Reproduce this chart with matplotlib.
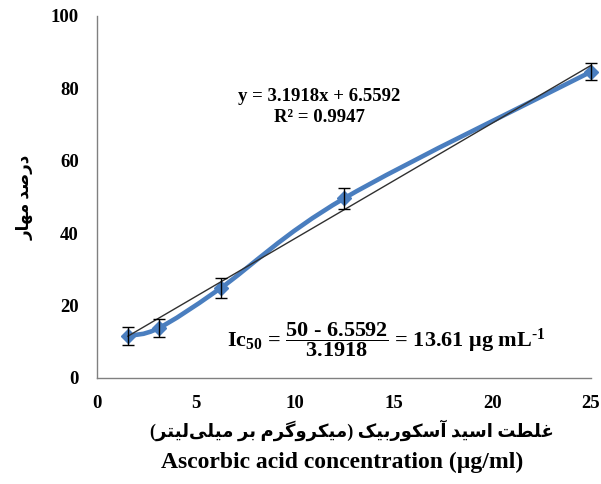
import numpy as np
import matplotlib
matplotlib.use("Agg")
from matplotlib import pyplot as plt
from matplotlib.path import Path
from matplotlib.patches import PathPatch

plt.rcParams['font.family'] = ['Liberation Serif', 'DejaVu Sans']
plt.rcParams['font.weight'] = 'bold'
plt.rcParams['mathtext.fontset'] = 'custom'
plt.rcParams['mathtext.rm'] = 'Liberation Serif:bold'
plt.rcParams['mathtext.bf'] = 'Liberation Serif:bold'
plt.rcParams['mathtext.it'] = 'Liberation Serif:italic:bold'

# data
conc = [1.5625, 3.125, 6.25, 12.5, 25]
inhib = [11.6, 13.8, 24.8, 49.6, 84.6]
err = [2.6, 2.6, 2.8, 2.9, 2.4]
slope = 3.1918
intercept = 6.5592
r2 = 0.9947
xticks = [0, 5, 10, 15, 20, 25]
yticks = [0, 20, 40, 60, 80, 100]

ylabel_fa = "درصد مهار"
xlabel_fa = "غلطت اسید آسکوربیک (میکروگرم بر میلی\u200cلیتر)"
xlabel_en = "Ascorbic acid concentration (µg/ml)"

# minimal arabic shaping (matplotlib has no shaping / bidi)
forms = {
    'ا': (0xFE8D, 0xFE8E), 'آ': (0xFE81, 0xFE82), 'د': (0xFEA9, 0xFEAA),
    'ر': (0xFEAD, 0xFEAE), 'و': (0xFEED, 0xFEEE),
    'ب': (0xFE8F, 0xFE90, 0xFE91, 0xFE92), 'ت': (0xFE95, 0xFE96, 0xFE97, 0xFE98),
    'س': (0xFEB1, 0xFEB2, 0xFEB3, 0xFEB4), 'ص': (0xFEB9, 0xFEBA, 0xFEBB, 0xFEBC),
    'ط': (0xFEC1, 0xFEC2, 0xFEC3, 0xFEC4), 'غ': (0xFECD, 0xFECE, 0xFECF, 0xFED0),
    'ک': (0xFB8E, 0xFB8F, 0xFB90, 0xFB91), 'گ': (0xFB92, 0xFB93, 0xFB94, 0xFB95),
    'ل': (0xFEDD, 0xFEDE, 0xFEDF, 0xFEE0), 'م': (0xFEE1, 0xFEE2, 0xFEE3, 0xFEE4),
    'ه': (0xFEE9, 0xFEEA, 0xFEEB, 0xFEEC), 'ی': (0xFBFC, 0xFBFD, 0xFBFE, 0xFBFF),
}

def shape(s):
    out = []
    for i, ch in enumerate(s):
        if ch not in forms:
            out.append(ch)
            continue
        f = forms[ch]
        prev = s[i-1] if i > 0 else ''
        nxt = s[i+1] if i + 1 < len(s) else ''
        jp = prev in forms and len(forms[prev]) == 4
        jn = len(f) == 4 and nxt in forms
        out.append(chr(f[(1 if jp else 0) + (2 if jn else 0)]))
    mirror = {'(': ')', ')': '('}
    return ''.join(mirror.get(c, c) for c in reversed(out) if c != '\u200c')

fig = plt.figure(figsize=(6.01, 4.84), dpi=100)
ax = fig.add_axes([97/601, 1-378/484, 494/601, 362/484])

blue = '#4A7EBF'

# smoothed line (excel style bezier through the points)
x = np.array(conc)
y = np.array(inhib)
pts = np.column_stack([x, y])
verts = [pts[0]]
codes = [Path.MOVETO]
n = len(pts)
for i in range(n - 1):
    p0 = pts[max(i-1, 0)]
    p1 = pts[i]
    p2 = pts[i+1]
    p3 = pts[min(i+2, n-1)]
    verts += [p1 + (p2 - p0)/6, p2 - (p3 - p1)/6, p2]
    codes += [Path.CURVE4]*3
ax.add_patch(PathPatch(Path(verts, codes), facecolor='none', edgecolor=blue,
                       lw=3.3, zorder=2, clip_on=False))
ax.plot(conc, inhib, ls='none', marker='D', ms=7, color=blue, zorder=3, clip_on=False)

# linear trendline
tx = np.array([conc[0], conc[-1]])
ax.plot(tx, slope*tx + intercept, color='#303030', lw=1, zorder=4, clip_on=False)

ax.errorbar(conc, inhib, yerr=err, fmt='none', ecolor='black', elinewidth=1,
            capsize=4, capthick=1, zorder=5, clip_on=False)

ax.set_xlim(0, 25)
ax.set_ylim(0, 100)
ax.set_xticks(xticks)
ax.set_yticks(yticks)
ax.tick_params(length=0, labelsize=13.5)
ax.tick_params(axis='y', pad=13)
ax.tick_params(axis='x', pad=12)
for lab in ax.get_xticklabels() + ax.get_yticklabels():
    lab.set_fontweight('bold')
for s in ['top', 'right']:
    ax.spines[s].set_visible(False)
for s in ['left', 'bottom']:
    ax.spines[s].set_color('#808080')
    ax.spines[s].set_linewidth(1)

ax.text(0.45, 0.748, f"y = {slope}x + {intercept}\nR² = {r2}", transform=ax.transAxes,
        ha='center', va='center', fontsize=13.5, fontweight='bold', linespacing=1.3)

ic50 = (50 - intercept) / slope
ax.text(0.585, 0.105,
        r"$\text{Ic}_{\text{50}}\text{ = }\dfrac{\text{50 - " + f"{intercept}" +
        r"}}{\text{" + f"{slope}" + r"}}\text{ = " + f"{ic50:.2f}" +
        r" μg mL}^{\text{-1}}$",
        transform=ax.transAxes, ha='center', va='center', fontsize=16)

fig.text(352/601, 1-430/484, shape(xlabel_fa), ha='center', va='center',
         fontsize=13, fontweight='bold')
fig.text(342/601, 1-462/484, xlabel_en, ha='center', va='center',
         fontsize=17, fontweight='bold')
fig.text(25/601, 1-197/484, shape(ylabel_fa), ha='center', va='center',
         rotation=90, fontsize=12, fontweight='bold')

fig.savefig("out.png", dpi=100, facecolor='white')
